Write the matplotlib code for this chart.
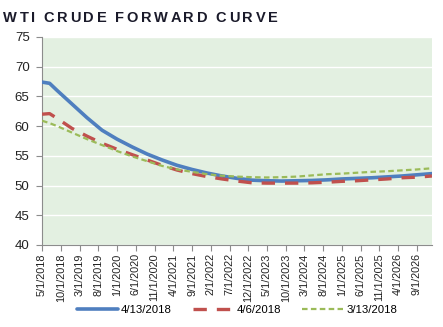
import matplotlib
matplotlib.use("Agg")
import matplotlib.pyplot as plt
import pandas as pd

BLUE = "#4f7fbf"; RED = "#c0504d"; GREEN = "#9bbb59"; BG = "#e3f0e1"; AX = "#8c8c8c"

# forward curve samples (contract month -> $/bbl)
months = ["2018-05", "2018-07", "2018-09", "2019-01", "2019-05", "2019-09", "2020-01",
          "2020-05", "2020-09", "2021-01", "2021-05", "2021-09", "2022-01", "2022-05",
          "2022-09", "2023-01", "2023-05", "2023-09", "2024-01", "2024-05", "2024-09",
          "2025-01", "2025-05", "2025-09", "2026-01", "2026-05", "2026-09", "2027-01"]
curve_0413 = [67.4, 67.2, 66.0, 63.7, 61.4, 59.3, 57.8, 56.5, 55.3, 54.3, 53.4, 52.7, 52.1, 51.6,
              51.2, 50.9, 50.8, 50.75, 50.8, 50.85, 50.95, 51.1, 51.2, 51.3, 51.45, 51.6, 51.8, 52.0]
curve_0406 = [62.0, 62.1, 61.3, 59.6, 58.3, 57.1, 56.1, 55.2, 54.3, 53.4, 52.6, 52.0, 51.5, 51.1,
              50.75, 50.45, 50.4, 50.4, 50.4, 50.45, 50.55, 50.7, 50.8, 50.95, 51.1, 51.3, 51.4, 51.6]
curve_0313 = [60.9, 60.5, 60.0, 58.9, 57.8, 56.8, 55.8, 54.9, 54.1, 53.3, 52.7, 52.3, 51.9, 51.65,
              51.5, 51.4, 51.35, 51.4, 51.5, 51.7, 51.9, 52.0, 52.15, 52.3, 52.4, 52.55, 52.7, 52.9]
tick_dates = pd.date_range("2018-05-01", "2026-09-01", freq="5MS")
tick_labels = [f"{d.month}/1/{d.year}" for d in tick_dates]


def month_idx(d):
    d = pd.Timestamp(d)
    return (d.year - 2018) * 12 + d.month - 5


x = [month_idx(m) for m in months]

plt.rcParams["font.family"] = ["Liberation Sans", "DejaVu Sans"]
fig = plt.figure(figsize=(4.43, 3.27), dpi=100)
ax = fig.add_axes([0.095, 0.251, 0.88, 0.636])
ax.set_facecolor(BG)

ax.plot(x, curve_0413, color=BLUE, lw=2.6, solid_capstyle="round", label="4/13/2018", zorder=3)
ax.plot(x, curve_0406, color=RED, lw=2.4, dashes=(4, 3), label="4/6/2018", zorder=4)
ax.plot(x, curve_0313, color=GREEN, lw=1.6, dashes=(2.5, 1.5), label="3/13/2018", zorder=5)

ax.set_xlim(0, 104)
ax.set_ylim(40, 75)
ax.set_yticks(range(40, 80, 5))
ax.set_xticks([month_idx(d) for d in tick_dates])
ax.set_xticklabels(tick_labels, rotation=90, fontsize=7.8)
ax.tick_params(axis="y", labelsize=9.5, length=4, color=AX, pad=5, labelcolor="#222222")
ax.tick_params(axis="x", length=4, color=AX, pad=2, labelcolor="#222222")
ax.grid(axis="y", color="white", lw=1)
ax.set_axisbelow(True)
for s in ("top", "right"):
    ax.spines[s].set_visible(False)
for s in ("left", "bottom"):
    ax.spines[s].set_color(AX)

ax.legend(loc="center", bbox_to_anchor=(0.5, -0.315), ncol=3, frameon=False, fontsize=8.2,
          handlelength=3.6, columnspacing=1.8, handletextpad=0.3, borderpad=0)

# letter-spaced title, one glyph at a time
title = "WTI CRUDE FORWARD CURVE"
fig.canvas.draw()
r = fig.canvas.get_renderer()
px = 3
for ch in title:
    t = fig.text(px / 443, 1 - 18 / 327, ch, fontsize=10.5, fontweight="bold", color="#1a1a2a",
                 va="center", ha="left")
    w = t.get_window_extent(renderer=r).width if ch != " " else 3
    px += w + 2.7

fig.savefig("out.png", dpi=100)
